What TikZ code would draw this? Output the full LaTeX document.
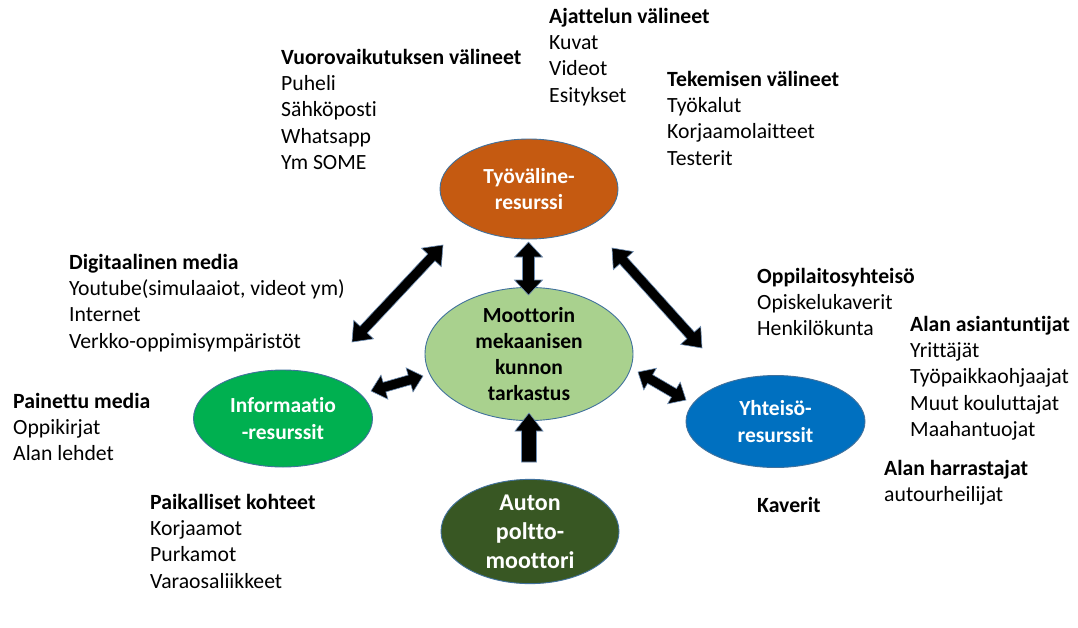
\documentclass[tikz,border=0pt]{standalone}
\usepackage{fontspec}
\setmainfont{Carlito}[Ligatures=NoCommon]
\usetikzlibrary{calc,shapes.geometric}

\definecolor{toolorange}{HTML}{C55A11}
\definecolor{coregreen}{HTML}{A9D18E}
\definecolor{infogreen}{HTML}{00B050}
\definecolor{commblue}{HTML}{0070C0}
\definecolor{enginegreen}{HTML}{385723}
\definecolor{rimblue}{HTML}{41719C}
\definecolor{arrowrim}{HTML}{6F8FB5}

% block arrow with heads at both ends: from, to, half shaft, half head, head length
\newcommand\dblblock[5]{%
  \filldraw[arrowbody] (#1) -- ($(#1)!#5!(#2)!#4!90:(#2)$) -- ($(#1)!#5!(#2)!#3!90:(#2)$)
    -- ($(#2)!#5!(#1)!#3!-90:(#1)$) -- ($(#2)!#5!(#1)!#4!-90:(#1)$) -- (#2)
    -- ($(#2)!#5!(#1)!#4!90:(#1)$) -- ($(#2)!#5!(#1)!#3!90:(#1)$)
    -- ($(#1)!#5!(#2)!#3!-90:(#2)$) -- ($(#1)!#5!(#2)!#4!-90:(#2)$) -- cycle;}
% block arrow with one head, pointing at the second point
\newcommand\oneblock[5]{%
  \filldraw[arrowbody] ($(#1)!#3!90:(#2)$) -- ($(#2)!#5!(#1)!#3!-90:(#1)$)
    -- ($(#2)!#5!(#1)!#4!-90:(#1)$) -- (#2) -- ($(#2)!#5!(#1)!#4!90:(#1)$)
    -- ($(#2)!#5!(#1)!#3!90:(#1)$) -- ($(#1)!#3!-90:(#2)$) -- cycle;}

\tikzset{
  arrowbody/.style={fill=black, draw=arrowrim, line width=0.6pt, line join=miter},
  resource/.style={ellipse, draw=rimblue, line width=0.9pt, inner sep=0pt, align=center,
    text=white, font=\bfseries\fontsize{21.5}{26.3}\selectfont},
  listblock/.style={anchor=north west, inner sep=0pt, align=left,
    font=\fontsize{21.7}{26.3}\selectfont},
}
\newcommand\topstrut{\rule{0pt}{17pt}}

\begin{document}
\begin{tikzpicture}[x=1pt, y=-1pt]
\useasboundingbox (0,0) rectangle (1078,627);
\fill[white] (0,0) rectangle (1078,627);

% resource ellipses
\node[resource, fill=toolorange, minimum width=178pt, minimum height=100pt] (tyo) at (529,189) {Työväline-\\resurssi};
\node[resource, fill=coregreen, text=black, minimum width=208pt, minimum height=112pt] (core) at (529,354) {Moottorin\\mekaanisen\\kunnon\\tarkastus};
\node[resource, fill=infogreen, minimum width=179pt, minimum height=97pt] (info) at (283,418.5) {Informaatio\\-resurssit};
\node[resource, fill=commblue, minimum width=179pt, minimum height=92pt] (yht) at (775.5,421.5) {Yhteisö-\\resurssit};
\node[resource, fill=enginegreen, minimum width=178pt, minimum height=97pt,
      font=\bfseries\fontsize{24}{29}\selectfont] (engine) at (530,531.5) {Auton\\poltto-\\moottori};

% arrow end points
\coordinate (tlA) at (443,245);  \coordinate (tlB) at (352,342);
\coordinate (trA) at (612,248);  \coordinate (trB) at (702,348);
\coordinate (tcA) at (528.5,242); \coordinate (tcB) at (528.5,295);
\coordinate (lsA) at (423,376);  \coordinate (lsB) at (371,391);
\coordinate (rsA) at (638,372);  \coordinate (rsB) at (686,400);
\coordinate (btA) at (529,462);  \coordinate (btB) at (529,413);

\dblblock{tlA}{tlB}{5pt}{13.5pt}{17pt}
\dblblock{trA}{trB}{5pt}{13.5pt}{17pt}
\dblblock{tcA}{tcB}{6pt}{14pt}{15pt}
\dblblock{lsA}{lsB}{5pt}{12.5pt}{14pt}
\dblblock{rsA}{rsB}{5pt}{12.5pt}{14pt}
\oneblock{btA}{btB}{7.5pt}{14pt}{18pt}

% resource lists
\node[listblock] (vuoro) at (281,47) {\topstrut\textbf{Vuorovaikutuksen välineet}\\Puheli\\Sähköposti\\Whatsapp\\Ym SOME};
\node[listblock] (ajattelu) at (549,6) {\topstrut\textbf{Ajattelun välineet}\\Kuvat\\Videot\\Esitykset};
\node[listblock] (tekeminen) at (667,69) {\topstrut\textbf{Tekemisen välineet}\\Työkalut\\Korjaamolaitteet\\Testerit};
\node[listblock] (digi) at (69,252) {\topstrut\textbf{Digitaalinen media}\\Youtube(simulaaiot, videot ym)\\Internet\\Verkko-oppimisympäristöt};
\node[listblock] (painettu) at (13,391) {\topstrut\textbf{Painettu media}\\Oppikirjat\\Alan lehdet};
\node[listblock] (paikalliset) at (150,492) {\topstrut\textbf{Paikalliset kohteet}\\Korjaamot\\Purkamot\\Varaosaliikkeet};
\node[listblock] (oppilaitos) at (757,266) {\topstrut\textbf{Oppilaitosyhteisö}\\Opiskelukaverit\\Henkilökunta};
\node[listblock] (asiantuntijat) at (910,314) {\topstrut\textbf{Alan asiantuntijat}\\Yrittäjät\\Työpaikkaohjaajat\\Muut kouluttajat\\Maahantuojat};
\node[listblock] (harrastajat) at (884,458) {\topstrut\textbf{Alan harrastajat}\\autourheilijat};
\node[listblock] (kaverit) at (757,495) {\topstrut\textbf{Kaverit}};
\end{tikzpicture}
\end{document}
